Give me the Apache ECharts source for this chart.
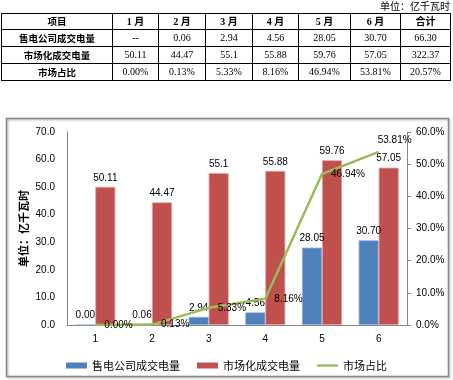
<!DOCTYPE html>
<html>
<head>
<meta charset="utf-8">
<script src="https://cdn.jsdelivr.net/npm/echarts@6/dist/echarts.min.js"></script>
<style>
  html, body { margin: 0; padding: 0; background: #fff; }
  #chart { position: absolute; left: 0; top: 0; width: 453px; height: 380px; }
  #unit { position: absolute; right: 3px; top: 0px; font: 10px "Noto Sans CJK SC", sans-serif; color: #000; line-height: 12px; }
  #tbl { position: absolute; left: 1px; top: 13px; border-collapse: collapse; table-layout: fixed; width: 450px; }
  #tbl td { border: 1px solid #000; padding: 0; text-align: center; font: 10px "Liberation Serif", "Noto Sans CJK SC", serif; color: #000; height: 16px; line-height: 16px; white-space: nowrap; overflow: hidden; }
  #tbl tr.hd td { font-weight: bold; height: 15px; line-height: 15px; }
  #tbl td.rh { font: bold 9.5px "Noto Sans CJK SC", sans-serif; }
</style>
</head>
<body>
<div id="chart"></div>
<div id="unit"></div>
<table id="tbl"></table>
<script>
// ---- data ----
const unitText = '单位：亿千瓦时';
const tableHeader = ['项目', '1 月', '2 月', '3 月', '4 月', '5 月', '6 月', '合计'];
const rowNames = ['售电公司成交电量', '市场化成交电量', '市场占比'];
const retailRow = ['--', '0.06', '2.94', '4.56', '28.05', '30.70', '66.30'];
const marketRow = ['50.11', '44.47', '55.1', '55.88', '59.76', '57.05', '322.37'];
const shareRow = ['0.00%', '0.13%', '5.33%', '8.16%', '46.94%', '53.81%', '20.57%'];

const categories = ['1', '2', '3', '4', '5', '6'];
const retailVolume = [0.00, 0.06, 2.94, 4.56, 28.05, 30.70];
const marketVolume = [50.11, 44.47, 55.1, 55.88, 59.76, 57.05];
const marketShare = [0.00, 0.13, 5.33, 8.16, 46.94, 53.81];
const seriesNames = ['售电公司成交电量', '市场化成交电量', '市场占比'];
const yAxisName = '单位：亿千瓦时';

// ---- table ----
document.getElementById('unit').textContent = unitText;
const colWidths = [111, 46, 47, 47, 46, 52, 50, 50];
const tbl = document.getElementById('tbl');
let html = '<colgroup>' + colWidths.map(w => '<col style="width:' + w + 'px">').join('') + '</colgroup>';
html += '<tr class="hd">' + tableHeader.map((h, i) => '<td' + (i === 0 ? ' class="rh"' : '') + '>' + h + '</td>').join('') + '</tr>';
[retailRow, marketRow, shareRow].forEach((row, r) => {
  html += '<tr><td class="rh">' + rowNames[r] + '</td>' + row.map(v => '<td>' + v + '</td>').join('') + '</tr>';
});
tbl.innerHTML = html;

// ---- chart ----
const chart = echarts.init(document.getElementById('chart'), null, { renderer: 'canvas' });
const numFont = 'Liberation Sans';
const shareData = marketShare.map((v, i) => {
  if (i === marketShare.length - 1) {
    return { value: v, label: { position: 'top', offset: [16, 2] } };
  }
  return v;
});
const option = {
  animation: false,
  graphic: [{
    type: 'rect',
    shape: { x: 6.5, y: 118.5, width: 442, height: 258 },
    style: { fill: 'none', stroke: '#8a8a8a', lineWidth: 1.5, shadowBlur: 2, shadowColor: 'rgba(0,0,0,0.3)', shadowOffsetX: 1, shadowOffsetY: 1 },
    z: -1
  }],
  grid: { left: 67, right: 46, top: 132, bottom: 55 },
  legend: {
    data: [
      { name: seriesNames[0], icon: 'rect', itemStyle: { borderWidth: 0 } },
      { name: seriesNames[1], icon: 'rect', itemStyle: { borderWidth: 0 } },
      { name: seriesNames[2], icon: 'path://M0,0h23v2.5h-23z', itemStyle: { color: '#9BBB59', borderWidth: 0 } }
    ],
    top: 355,
    left: 'center',
    itemWidth: 21,
    itemHeight: 6,
    itemGap: 17,
    textStyle: { fontSize: 11, color: '#000', fontFamily: 'Noto Sans CJK SC' }
  },
  xAxis: {
    type: 'category',
    data: categories,
    axisLine: { lineStyle: { color: '#888', width: 1 } },
    axisTick: { show: false },
    axisLabel: { fontSize: 10, color: '#000', fontFamily: numFont, margin: 9 }
  },
  yAxis: [{
    type: 'value',
    min: 0, max: 70, interval: 10,
    name: yAxisName,
    nameLocation: 'middle',
    nameRotate: 90,
    nameGap: 38,
    nameMoveOverlap: false,
    nameTextStyle: { fontSize: 11, fontWeight: 'bold', color: '#000', fontFamily: 'Noto Sans CJK SC' },
    axisLine: { show: true, lineStyle: { color: '#888', width: 1 } },
    axisTick: { show: false },
    splitLine: { show: false },
    axisLabel: { fontSize: 10, color: '#000', fontFamily: numFont, margin: 12, formatter: v => v.toFixed(1) }
  }, {
    type: 'value',
    position: 'right',
    min: 0, max: 60, interval: 10,
    axisLine: { show: true, lineStyle: { color: '#888', width: 1 } },
    axisTick: { show: true, length: 4, lineStyle: { color: '#888' } },
    splitLine: { show: false },
    axisLabel: { fontSize: 10, color: '#000', fontFamily: numFont, margin: 9, formatter: v => v.toFixed(1) + '%' }
  }],
  series: [{
    name: seriesNames[0],
    type: 'bar',
    data: retailVolume,
    barWidth: 20,
    barGap: '0%',
    itemStyle: { color: '#4F81BD', borderColor: '#8EAADB', borderWidth: 0.8 },
    label: { show: true, position: 'top', distance: 4, fontSize: 10, color: '#000', fontFamily: numFont, formatter: p => p.value.toFixed(2) }
  }, {
    name: seriesNames[1],
    type: 'bar',
    data: marketVolume,
    barWidth: 20,
    barGap: '0%',
    itemStyle: { color: '#C0504D', borderColor: '#E0A09E', borderWidth: 0.8 },
    label: { show: true, position: 'top', distance: 4, fontSize: 10, color: '#000', fontFamily: numFont, formatter: p => String(p.value) }
  }, {
    name: seriesNames[2],
    type: 'line',
    yAxisIndex: 1,
    data: shareData,
    symbol: 'circle',
    symbolSize: 0.01,
    showSymbol: true,
    lineStyle: { color: '#9BBB59', width: 2.5 },
    itemStyle: { color: '#9BBB59' },
    label: { show: true, position: 'right', distance: 9, fontSize: 10, color: '#000', fontFamily: numFont, formatter: p => p.value.toFixed(2) + '%' },
    z: 5
  }]
};
chart.setOption(option);
</script>
</body>
</html>
